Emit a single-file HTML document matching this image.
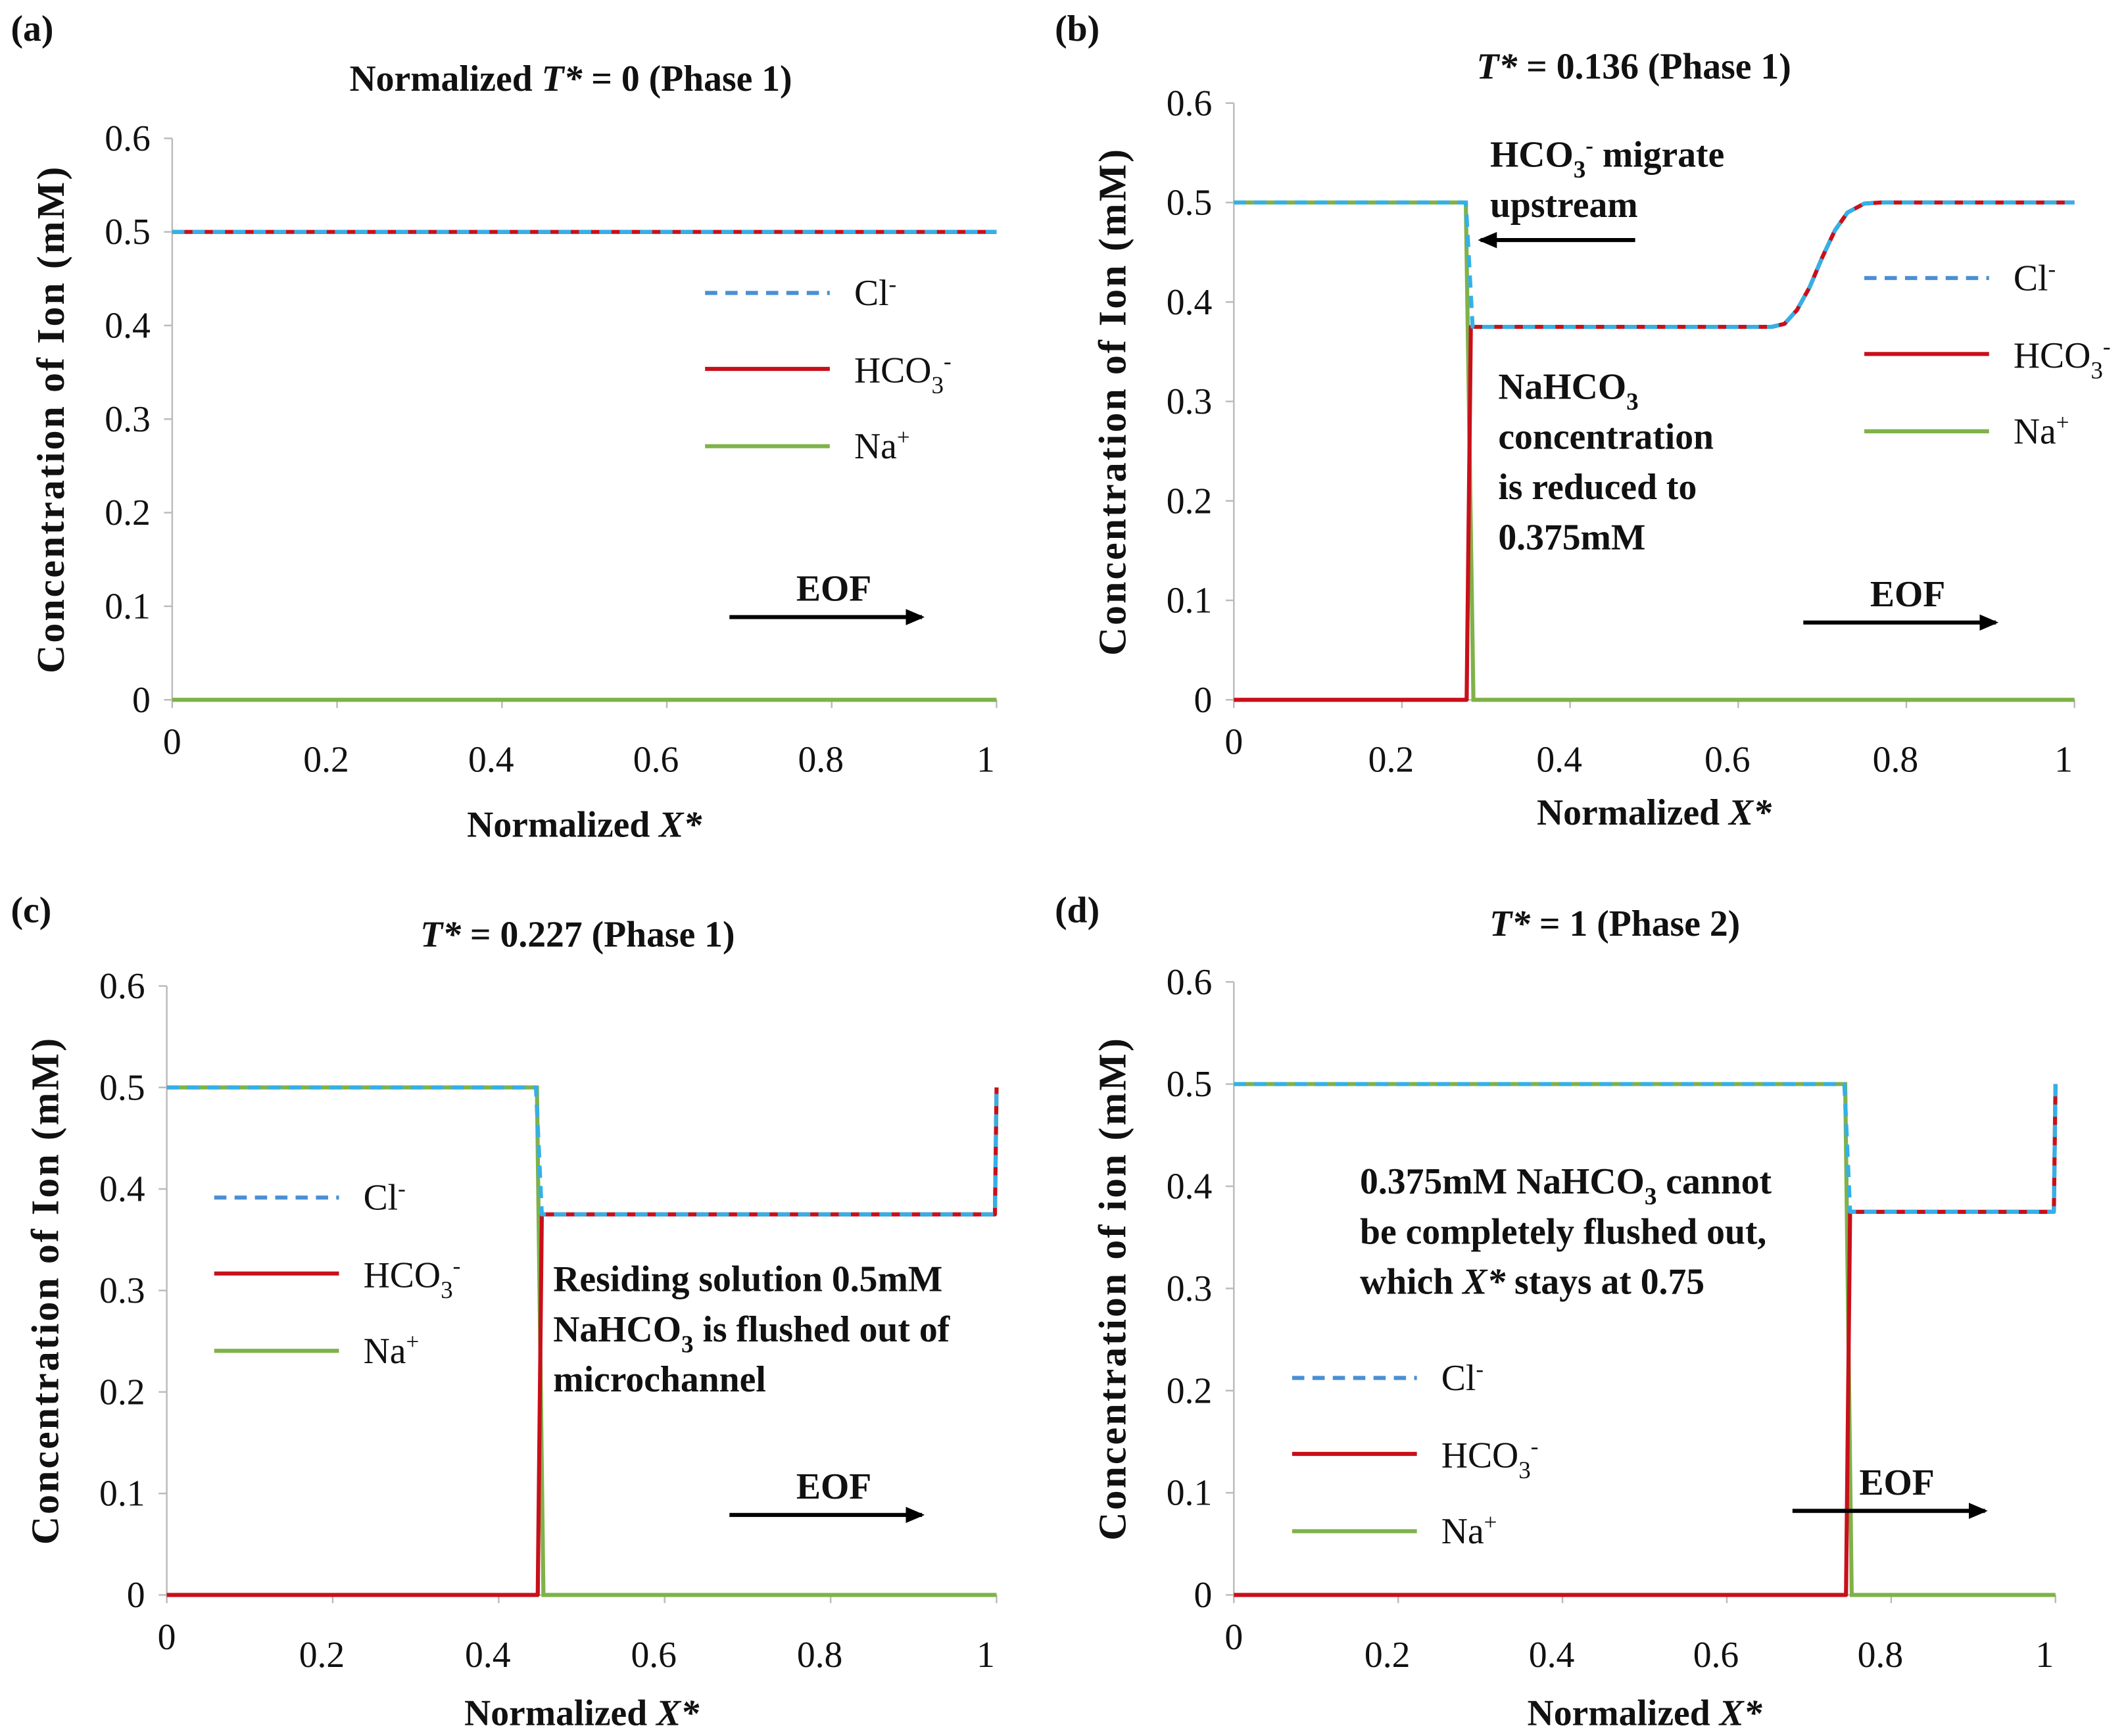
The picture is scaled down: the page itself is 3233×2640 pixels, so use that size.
<!DOCTYPE html>
<html><head><meta charset="utf-8"><style>
html,body{margin:0;padding:0;background:#fff}
svg{display:block}
text{font-family:"Liberation Serif",serif;fill:#111}
.t{font-size:27px}
.b{font-weight:bold;font-size:27px}
.ya{font-weight:bold;font-size:29px;letter-spacing:1.5px}
</style></head><body>
<svg id="fig" width="3233" height="2640" viewBox="0 0 1568 1280" preserveAspectRatio="none" xmlns="http://www.w3.org/2000/svg">
<defs><marker id="ah" markerUnits="userSpaceOnUse" markerWidth="14" markerHeight="12" refX="12" refY="6" orient="auto"><path d="M0,0 L14,6 L0,12 z" fill="#000"/></marker></defs>
</svg>
<script>
// data per panel
const panelA_cl=[[0,0.5],[1,0.5]];
const panelA_hco3=[[0,0.5],[1,0.5]];
const panelA_na=[[0,0],[1,0]];
const panelB_cl=[[0,0.5],[0.276,0.5],[0.284,0.375],[0.64,0.375],[0.655,0.378],[0.67,0.392],[0.685,0.415],[0.7,0.445],[0.715,0.472],[0.73,0.49],[0.75,0.499],[0.77,0.5],[1,0.5]];
const panelB_hco3=[[0,0],[0.277,0],[0.282,0.375],[0.64,0.375],[0.655,0.378],[0.67,0.392],[0.685,0.415],[0.7,0.445],[0.715,0.472],[0.73,0.49],[0.75,0.499],[0.77,0.5],[1,0.5]];
const panelB_na=[[0,0.5],[0.276,0.5],[0.285,0],[1,0]];
const panelC_cl=[[0,0.5],[0.445,0.5],[0.452,0.375],[0.998,0.375],[1,0.5]];
const panelC_hco3=[[0,0],[0.447,0],[0.452,0.375],[0.998,0.375],[1,0.5]];
const panelC_na=[[0,0.5],[0.446,0.5],[0.454,0],[1,0]];
const panelD_cl=[[0,0.5],[0.743,0.5],[0.75,0.375],[0.998,0.375],[1,0.5]];
const panelD_hco3=[[0,0],[0.745,0],[0.75,0.375],[0.998,0.375],[1,0.5]];
const panelD_na=[[0,0.5],[0.744,0.5],[0.752,0],[1,0]];
const yTicks=[0,0.1,0.2,0.3,0.4,0.5,0.6];
const xTicks=[0,0.2,0.4,0.6,0.8,1];

const NS="http://www.w3.org/2000/svg";
const svg=document.getElementById('fig');
function mk(tag,attrs,parent){const e=document.createElementNS(NS,tag);for(const k in attrs)e.setAttribute(k,attrs[k]);(parent||svg).appendChild(e);return e;}
function txt(x,y,html,cls,anchor,parent){const e=mk('text',{x:x,y:y,class:cls,'text-anchor':anchor||'start'},parent);e.innerHTML=html;return e;}

const panels=[
 {id:'a',x0:127,x1:735,y0:516,y1:102,cl:panelA_cl,h:panelA_hco3,na:panelA_na,label:'(a)',lx:8,ly:30,title:'Normalized <tspan font-style="italic">T*</tspan> = 0 (Phase 1)',tx:421,ty:67,
  leg:[520,216],eof:[538,455],ylab:'Concentration of Ion (mM)',xlabY:617},
 {id:'b',x0:910,x1:1530,y0:516,y1:76,cl:panelB_cl,h:panelB_hco3,na:panelB_na,label:'(b)',lx:778,ly:30,title:'<tspan font-style="italic">T*</tspan> = 0.136 (Phase 1)',tx:1205,ty:58,
  leg:[1375,205],eof:[1330,459],ylab:'Concentration of Ion (mM)',xlabY:608},
 {id:'c',x0:123,x1:735,y0:1176,y1:727,cl:panelC_cl,h:panelC_hco3,na:panelC_na,label:'(c)',lx:8,ly:680,title:'<tspan font-style="italic">T*</tspan> = 0.227 (Phase 1)',tx:426,ty:698,
  leg:[158,883],eof:[538,1117],ylab:'Concentration of Ion (mM)',xlabY:1272},
 {id:'d',x0:910,x1:1516,y0:1176,y1:724,cl:panelD_cl,h:panelD_hco3,na:panelD_na,label:'(d)',lx:778,ly:680,title:'<tspan font-style="italic">T*</tspan> = 1 (Phase 2)',tx:1191,ty:690,
  leg:[953,1016],eof:[1322,1114],ylab:'Concentration of ion (mM)',xlabY:1272}
];

panels.forEach(p=>{
 const g=mk('g',{});
 
 
 const sx=v=>p.x0+(p.x1-p.x0)*v, sy=v=>p.y0+(p.y1-p.y0)*v/0.6;
 const ya=mk('line',{x1:p.x0,x2:p.x0,y1:sy(0.6),y2:p.y0,stroke:'#bbb','stroke-width':1.2},g);
 
 
 const xa=mk('line',{x1:p.x0,x2:p.x1,y1:p.y0,y2:p.y0,stroke:'#bbb','stroke-width':1.2},g);
 
 
 yTicks.forEach(t=>{
  mk('line',{x1:p.x0-6,x2:p.x0,y1:sy(t),y2:sy(t),stroke:'#bbb','stroke-width':1.2},g);
  const e=txt(p.x0-16,sy(t)+9,String(t),'t','end',g);
  
  
 });
 xTicks.forEach((t,i)=>{
  mk('line',{x1:sx(t),x2:sx(t),y1:p.y0,y2:p.y0+6,stroke:'#bbb','stroke-width':1.2},g);
  const e=txt(sx(t)-(i==0?0:8),p.y0+(i==0?40:53),String(t),'t','middle',g);
  
  
 });
 const path=pts=>pts.map((q,i)=>(i?'L':'M')+sx(q[0]).toFixed(1)+','+sy(q[1]).toFixed(1)).join(' ');
 const n=mk('path',{d:path(p.na),fill:'none',stroke:'#7fb24a','stroke-width':3},g);
 
 
 const h=mk('path',{d:path(p.h),fill:'none',stroke:'#c8101a','stroke-width':3,'stroke-linejoin':'round'},g);
 
 
 const c=mk('path',{d:path(p.cl),fill:'none',stroke:'#34b0e6','stroke-width':3,'stroke-dasharray':'9,6','stroke-linejoin':'round'},g);
 
 
 const [lx,ly]=p.leg;
 const lg=mk('g',{},g);
 
 
 mk('line',{x1:lx,x2:lx+92,y1:ly,y2:ly,stroke:'#4a8fd4','stroke-width':3,'stroke-dasharray':'9,6'},lg);
 txt(lx+110,ly+9,'Cl<tspan dy="-10" font-size="17">-</tspan>','t','start',lg);
 mk('line',{x1:lx,x2:lx+92,y1:ly+56,y2:ly+56,stroke:'#c8101a','stroke-width':3},lg);
 txt(lx+110,ly+66,'HCO<tspan dy="8" font-size="18">3</tspan><tspan dy="-18" font-size="17">-</tspan>','t','start',lg);
 mk('line',{x1:lx,x2:lx+92,y1:ly+113,y2:ly+113,stroke:'#7fb24a','stroke-width':3},lg);
 txt(lx+110,ly+122,'Na<tspan dy="-10" font-size="17">+</tspan>','t','start',lg);
 const [ex,ey]=p.eof;
 const ee=txt(ex+77,ey-12,'EOF','b','middle',g);
 
 
 mk('line',{x1:ex,x2:ex+142,y1:ey,y2:ey,stroke:'#000','stroke-width':3,'marker-end':'url(#ah)'},g);
 const pl=txt(p.lx,p.ly,p.label,'b','start',g);
 
 
 const tt=txt(p.tx,p.ty,p.title,'b','middle',g);
 
 
 const yl=txt(0,0,p.ylab,'ya','middle',g);
 yl.setAttribute('transform','translate('+(p.x0-80)+','+((p.y0+sy(0.6))/2)+') rotate(-90)');
 
 
 const xl=txt((p.x0+p.x1)/2,p.xlabY,'Normalized <tspan font-style="italic">X*</tspan>','b','middle',g);
 
 
});

function note(x,y,lines,name){
 const g=mk('g',{});
 
 
 lines.forEach((l,i)=>txt(x,y+i*37,l,'b','start',g));
 return g;
}
note(1099,123,['HCO<tspan dy="8" font-size="18">3</tspan><tspan dy="-18" font-size="17">-</tspan><tspan dy="10"> migrate</tspan>','upstream'],'annotation-migrate');
mk('line',{x1:1206,x2:1092,y1:177,y2:177,stroke:'#000','stroke-width':3,'marker-end':'url(#ah)'});
note(1105,294,['NaHCO<tspan dy="8" font-size="18">3</tspan>','concentration','is reduced to','0.375mM'],'annotation-reduced');
note(408,952,['Residing solution 0.5mM','NaHCO<tspan dy="8" font-size="18">3</tspan><tspan dy="-8"> is flushed out of</tspan>','microchannel'],'annotation-flushed');
note(1003,880,['0.375mM NaHCO<tspan dy="8" font-size="18">3</tspan><tspan dy="-8"> cannot</tspan>','be completely flushed out,','which <tspan font-style="italic">X*</tspan> stays at 0.75'],'annotation-stays');
</script>
</body></html>
